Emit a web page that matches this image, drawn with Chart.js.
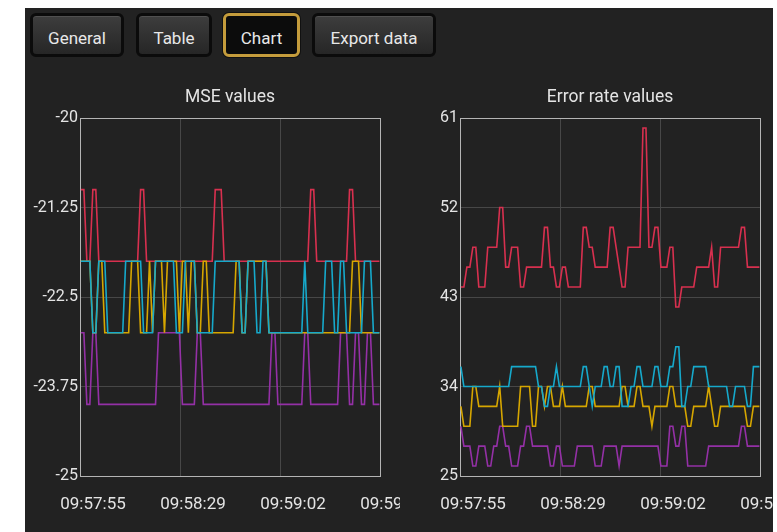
<!DOCTYPE html>
<html>
<head>
<meta charset="utf-8">
<script src="https://cdn.jsdelivr.net/npm/chart.js@4.4.1/dist/chart.umd.min.js"></script>
<style>
  html, body { margin: 0; padding: 0; background: #fff; }
  #panel {
    position: absolute; left: 25px; top: 8px; width: 748px; height: 530px;
    background: #222; overflow: hidden; font-family: Roboto, sans-serif;
  }
  .btn {
    position: absolute; top: 5px; height: 44px; box-sizing: border-box;
    border: 3px solid #0b0b0b; border-radius: 6px;
    background: linear-gradient(#3d3d3d, #262626);
    box-shadow: inset 0 1px 0 #505050;
    color: #e8e8e8; font-size: 17px; text-align: center;
    padding-top: 7px; line-height: 31px;
  }
  .btn.active { border-color: #c49c3c; background: #0c0c0c; box-shadow: 0 0 0 1px #111; }
  .plot { position: absolute; top: 72px; height: 452px; }
</style>
</head>
<body>
<div id="panel">
  <div class="btn" style="left:5px;width:94px">General</div>
  <div class="btn" style="left:111px;width:76px">Table</div>
  <div class="btn active" style="left:198px;width:77px">Chart</div>
  <div class="btn" style="left:287px;width:124px">Export data</div>
  <canvas id="mseChart" class="plot" width="375" height="452" style="left:0"></canvas>
  <canvas id="errChart" class="plot" width="380" height="452" style="left:375px"></canvas>
</div>
<script>
// --- time axis: one sample per second, axis starts at START_TIME ---
const START_TIME = '09:57:55';
const X_TICKS = [0, 33.5, 67, 100.5];
const FIRST_SAMPLE = 0.3;

const MSE_TICKS = [-25, -23.75, -22.5, -21.25, -20];
const ERR_TICKS = [25, 34, 43, 52, 61];

// --- MSE values per channel ---
const mseRed = [
  -21,-21,-22,-22,-21,-21,-22,-22,-22,-22,
  -22,-22,-22,-22,-22,-22,-22,-22,-22,-22,
  -21,-21,-22,-22,-22,-22,-22,-22,-22,-22,
  -22,-22,-22,-22,-22,-22,-22,-22,-22,-22,
  -22,-22,-22,-22,-22,-21,-21,-21,-22,-22,
  -22,-22,-22,-22,-22,-22,-22,-22,-22,-22,
  -22,-22,-22,-22,-22,-22,-22,-22,-22,-22,
  -22,-22,-22,-22,-22,-22,-22,-21,-21,-22,
  -22,-22,-22,-22,-22,-22,-22,-22,-22,-22,
  -21,-21,-22,-22,-22,-22,-22,-22,-22,-22,
  -22
];
const mseCyan = [
  -22,-22,-22,-22,-23,-23,-22,-22,-22,-23,
  -23,-23,-23,-23,-23,-22,-22,-22,-22,-22,
  -22,-23,-23,-23,-23,-22,-22,-22,-22,-22,
  -22,-22,-23,-23,-23,-22,-22,-22,-22,-23,
  -23,-23,-23,-23,-23,-22,-22,-22,-22,-22,
  -22,-22,-22,-22,-23,-23,-22,-22,-22,-23,
  -23,-22,-22,-23,-23,-23,-23,-23,-23,-23,
  -23,-23,-23,-23,-23,-22,-23,-23,-23,-23,
  -23,-23,-22,-22,-22,-23,-23,-22,-22,-23,
  -23,-23,-23,-23,-23,-22,-22,-22,-23,-23,
  -23
];
const mseGold = [
  -22,-22,-22,-22,-23,-23,-22,-22,-23,-23,
  -23,-23,-23,-23,-23,-23,-23,-22,-22,-22,
  -23,-23,-23,-22,-23,-22,-22,-22,-23,-22,
  -22,-22,-22,-23,-22,-22,-23,-22,-22,-23,
  -23,-22,-22,-23,-23,-23,-23,-23,-23,-23,
  -23,-23,-22,-22,-23,-23,-22,-22,-22,-22,
  -22,-22,-22,-23,-23,-23,-23,-23,-23,-23,
  -23,-23,-23,-23,-23,-23,-23,-23,-23,-23,
  -23,-23,-23,-23,-23,-23,-23,-23,-23,-23,
  -23,-22,-22,-22,-23,-23,-23,-23,-23,-23,
  -23
];
const msePurple = [
  -23,-23,-24,-24,-23,-23,-24,-24,-24,-24,
  -24,-24,-24,-24,-24,-24,-24,-24,-24,-24,
  -24,-24,-24,-24,-24,-24,-23,-23,-23,-23,
  -23,-23,-23,-23,-24,-24,-24,-24,-24,-23,
  -23,-24,-24,-24,-24,-24,-24,-24,-24,-24,
  -24,-24,-24,-24,-24,-24,-24,-24,-24,-24,
  -24,-24,-24,-24,-23,-23,-24,-24,-24,-24,
  -24,-24,-24,-24,-24,-23,-23,-24,-24,-24,
  -24,-24,-24,-24,-24,-24,-24,-23,-23,-23,
  -24,-24,-23,-23,-24,-24,-23,-23,-24,-24,
  -24
];

// --- error rate values per channel ---
const errRed = [
  44,44,46,46,48,48,44,44,44,48,
  48,48,48,52,52,46,46,48,48,48,
  44,44,46,46,46,46,46,46,50,50,
  46,46,44,44,46,46,44,44,44,44,
  44,50,50,48,48,46,46,46,46,46,
  50,50,48,46,44,44,48,48,48,48,
  48,60,60,48,48,50,50,46,46,46,
  48,48,42,42,44,44,44,44,44,46,
  46,46,46,46,48,44,44,48,48,48,
  48,48,48,48,50,50,46,46,46,46,
  46
];
const errCyan = [
  36,34,34,34,34,34,34,34,34,34,
  34,34,34,34,34,34,34,36,36,36,
  36,36,36,36,36,36,34,34,32,32,
  34,34,36,34,34,34,34,34,34,34,
  34,36,36,34,32,34,34,34,36,36,
  34,34,36,36,32,32,32,34,34,36,
  36,34,34,34,34,36,36,34,34,34,
  36,36,38,38,32,32,34,34,36,36,
  36,36,36,34,34,34,34,34,34,34,
  32,32,34,34,34,34,32,32,36,36,
  36
];
const errGold = [
  32,30,30,30,34,34,32,32,32,32,
  32,32,32,34,30,30,30,30,30,30,
  34,34,34,34,30,30,34,34,32,34,
  34,32,32,32,34,32,32,32,32,32,
  32,32,32,34,34,32,32,32,32,32,
  32,32,32,32,34,34,32,32,32,34,
  34,32,32,32,30,32,32,32,32,32,
  34,34,32,32,32,32,30,30,32,32,
  32,32,32,34,32,30,30,32,32,32,
  32,32,32,32,32,32,30,30,32,32,
  32
];
const errPurple = [
  30,28,28,28,26,26,28,28,28,26,
  26,28,28,30,30,28,28,26,26,26,
  28,28,30,30,28,28,28,28,28,28,
  26,26,28,28,26,26,26,26,26,28,
  28,28,28,28,28,26,26,26,28,28,
  28,28,28,26,28,28,28,28,28,28,
  28,28,28,28,28,28,28,26,26,26,
  30,30,28,28,30,30,26,26,26,26,
  26,26,26,28,28,28,28,28,28,28,
  28,28,28,28,30,30,28,28,28,28,
  28
];

const RED = '#d8304f', CYAN = '#16a9cb', GOLD = '#d6a600', PURPLE = '#9430a6';
const GRID = '#474747', FRAME = '#b4b4b4', TEXT = '#e4e4e4';

Chart.defaults.font.family = 'Roboto';

function fmtTime(offset) {
  const [h, m, s] = START_TIME.split(':').map(Number);
  const t = h * 3600 + m * 60 + s + Math.round(offset);
  const pad = n => String(n).padStart(2, '0');
  return pad(Math.floor(t / 3600)) + ':' + pad(Math.floor(t / 60) % 60) + ':' + pad(t % 60);
}

function buildChart(id, title, series, yTicks, axisWidth) {
  const lastX = X_TICKS.length - 1;
  const lastY = yTicks.length - 1;
  return new Chart(document.getElementById(id), {
    type: 'line',
    data: {
      // first dataset ends up on top
      datasets: series.map(s => ({
        data: s.values.map((v, i) => ({ x: FIRST_SAMPLE + i, y: v })),
        borderColor: s.color,
        borderWidth: 1.6,
        pointRadius: 0,
        tension: 0,
        fill: false
      }))
    },
    options: {
      responsive: false,
      animation: false,
      devicePixelRatio: 1,
      layout: { autoPadding: false, padding: { left: 0, right: 20, top: 0, bottom: 0 } },
      plugins: {
        legend: { display: false },
        tooltip: { enabled: false },
        title: {
          display: true,
          text: title,
          fullSize: false,
          color: TEXT,
          font: { size: 17.5, weight: 'normal', lineHeight: '20px' },
          padding: { top: 8, bottom: 10 }
        }
      },
      scales: {
        x: {
          type: 'linear',
          min: X_TICKS[0],
          max: X_TICKS[lastX],
          afterBuildTicks: sc => { sc.ticks = X_TICKS.map(v => ({ value: v })); },
          afterFit: sc => { sc.height = 56; sc.paddingLeft = 0; sc.paddingRight = 0; },
          grid: { color: c => (c.index === 0 || c.index === lastX) ? FRAME : GRID, drawTicks: false },
          border: { color: FRAME },
          ticks: {
            color: TEXT,
            font: { size: 17 },
            padding: 19,
            labelOffset: 13,
            maxRotation: 0,
            autoSkip: false,
            callback: v => fmtTime(v)
          }
        },
        y: {
          type: 'linear',
          min: yTicks[0],
          max: yTicks[lastY],
          afterBuildTicks: sc => { sc.ticks = yTicks.map(v => ({ value: v })); },
          afterFit: sc => { sc.width = axisWidth; sc.paddingTop = 0; sc.paddingBottom = 0; },
          grid: { color: c => (c.index === 0 || c.index === lastY) ? FRAME : GRID, drawTicks: false },
          border: { color: FRAME },
          ticks: {
            color: TEXT,
            font: { size: 16 },
            padding: 2,
            callback: v => String(v)
          }
        }
      }
    }
  });
}

buildChart('mseChart', 'MSE values', [
  { values: mseCyan, color: CYAN },
  { values: mseGold, color: GOLD },
  { values: mseRed, color: RED },
  { values: msePurple, color: PURPLE }
], MSE_TICKS, 55);

buildChart('errChart', 'Error rate values', [
  { values: errCyan, color: CYAN },
  { values: errGold, color: GOLD },
  { values: errRed, color: RED },
  { values: errPurple, color: PURPLE }
], ERR_TICKS, 60);
</script>
</body>
</html>
